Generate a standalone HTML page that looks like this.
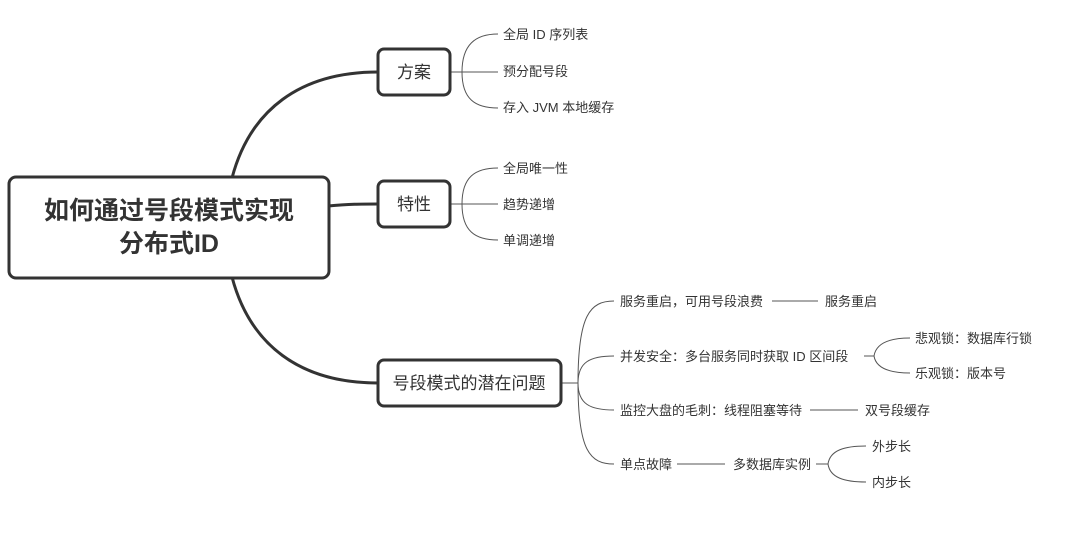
<!DOCTYPE html>
<html><head><meta charset="utf-8"><style>
html,body{margin:0;padding:0;background:#fff;}
svg text{font-family:"Liberation Sans","Noto Sans CJK SC",sans-serif;fill:#333;}
.l{font-size:13px;}
</style></head><body>
<svg width="1080" height="538" viewBox="0 0 1080 538" xmlns="http://www.w3.org/2000/svg">
<g fill="none" stroke="#333" stroke-width="3">
<path d="M232 178 C250 110 300 72 378 72"/>
<path d="M328 206 C350 204 360 204 378 204"/>
<path d="M232 277 C250 345 300 383 378 383"/>
</g>
<g fill="none" stroke="#555" stroke-width="1">
<path d="M450 72 H462"/><path d="M462 72 C462 45 475 34 498 34"/><path d="M462 72 H498"/><path d="M462 72 C462 99 475 108 498 108"/>
<path d="M450 204 H462"/><path d="M462 204 C462 177 475 168 498 168"/><path d="M462 204 H498"/><path d="M462 204 C462 231 475 240 498 240"/>
<path d="M561 383 H578"/>
<path d="M578 383 C578 315 590 301 614 301"/><path d="M578 383 C578 362 590 356 614 356"/><path d="M578 383 C578 404 590 410 614 410"/><path d="M578 383 C578 451 590 464 614 464"/>
<path d="M772 301 H818"/>
<path d="M864 356 H874"/><path d="M874 356 C876 343 890 338 910 338"/><path d="M874 356 C876 368 890 373 910 373"/>
<path d="M810 410 H858"/>
<path d="M677 464 H725"/>
<path d="M816 464 H828"/><path d="M828 464 C830 450 845 446 866 446"/><path d="M828 464 C830 478 845 482 866 482"/>
</g>
<g fill="#fff" stroke="#333" stroke-width="3">
<rect x="9" y="177" width="320" height="101" rx="7"/>
<rect x="378" y="49" width="72" height="46" rx="6"/>
<rect x="378" y="181" width="72" height="46" rx="6"/>
<rect x="378" y="360" width="183" height="46" rx="6"/>
</g>
<text x="169" y="219" font-size="25" font-weight="bold" text-anchor="middle">如何通过号段模式实现</text>
<text x="169" y="252" font-size="25" font-weight="bold" text-anchor="middle">分布式ID</text>
<text x="414" y="78" font-size="17" text-anchor="middle">方案</text>
<text x="414" y="210" font-size="17" text-anchor="middle">特性</text>
<text x="469" y="389" font-size="17" text-anchor="middle">号段模式的潜在问题</text>
<g>
<text class="l" x="503" y="39">全局 ID 序列表</text>
<text class="l" x="503" y="76">预分配号段</text>
<text class="l" x="503" y="112">存入 JVM 本地缓存</text>
<text class="l" x="503" y="173">全局唯一性</text>
<text class="l" x="503" y="209">趋势递增</text>
<text class="l" x="503" y="245">单调递增</text>
<text class="l" x="620" y="306">服务重启，可用号段浪费</text>
<text class="l" x="825" y="306">服务重启</text>
<text class="l" x="620" y="361">并发安全：多台服务同时获取 ID 区间段</text>
<text class="l" x="915" y="343">悲观锁：数据库行锁</text>
<text class="l" x="915" y="378">乐观锁：版本号</text>
<text class="l" x="620" y="415">监控大盘的毛刺：线程阻塞等待</text>
<text class="l" x="865" y="415">双号段缓存</text>
<text class="l" x="620" y="469">单点故障</text>
<text class="l" x="733" y="469">多数据库实例</text>
<text class="l" x="872" y="451">外步长</text>
<text class="l" x="872" y="487">内步长</text>
</g>
</svg>
</body></html>
